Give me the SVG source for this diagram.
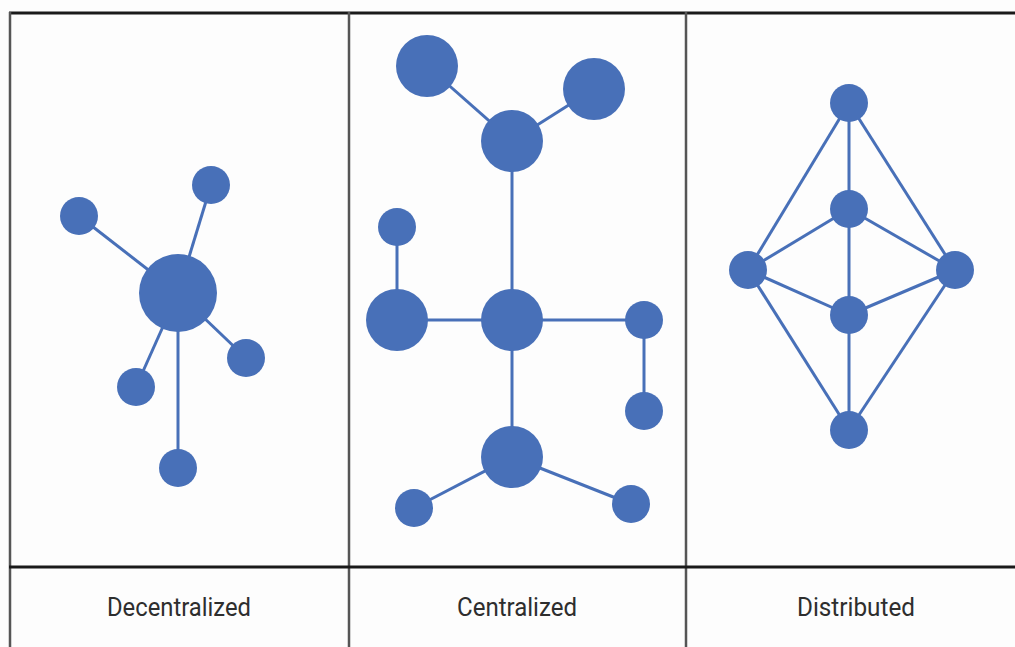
<svg xmlns="http://www.w3.org/2000/svg" width="1015" height="647" viewBox="0 0 1015 647">
<style>
.frame{stroke:#555;stroke-width:2.5;fill:none}
.hline{stroke:#1a1a1a;stroke-width:3}
.edge{stroke:#4870b8;stroke-width:3;fill:none}
.node{fill:#4870b8}
.label{font-family:Roboto,"Liberation Sans",sans-serif;font-size:26px;fill:#2e2e2e;text-anchor:middle}
</style>
<rect width="1015" height="647" fill="#fdfdfd"/>
<g id="frame">
<line class="hline" x1="9" y1="13" x2="1015" y2="13"/>
<line class="frame" x1="10" y1="12" x2="10" y2="647"/>
<line class="frame" x1="349" y1="12" x2="349" y2="647"/>
<line class="frame" x1="686" y1="12" x2="686" y2="647"/>
<line class="hline" x1="9" y1="567" x2="1015" y2="567"/>
</g>
<g id="connectors">
<line class="edge" x1="178" y1="293" x2="79" y2="216"/>
<line class="edge" x1="178" y1="293" x2="211" y2="185"/>
<line class="edge" x1="178" y1="293" x2="246" y2="358"/>
<line class="edge" x1="178" y1="293" x2="136" y2="387"/>
<line class="edge" x1="178" y1="293" x2="178" y2="468"/>
<line class="edge" x1="427" y1="66" x2="512" y2="141"/>
<line class="edge" x1="594" y1="89" x2="512" y2="141"/>
<line class="edge" x1="512" y1="141" x2="512" y2="320"/>
<line class="edge" x1="397" y1="227" x2="397" y2="320"/>
<line class="edge" x1="397" y1="320" x2="512" y2="320"/>
<line class="edge" x1="512" y1="320" x2="644" y2="320"/>
<line class="edge" x1="644" y1="320" x2="644" y2="411"/>
<line class="edge" x1="512" y1="320" x2="512" y2="457"/>
<line class="edge" x1="512" y1="457" x2="414" y2="508"/>
<line class="edge" x1="512" y1="457" x2="631" y2="504"/>
<line class="edge" x1="849" y1="103" x2="748" y2="270"/>
<line class="edge" x1="849" y1="103" x2="955" y2="270"/>
<line class="edge" x1="849" y1="103" x2="849" y2="430"/>
<line class="edge" x1="849" y1="209" x2="748" y2="270"/>
<line class="edge" x1="849" y1="209" x2="955" y2="270"/>
<line class="edge" x1="849" y1="315" x2="748" y2="270"/>
<line class="edge" x1="849" y1="315" x2="955" y2="270"/>
<line class="edge" x1="849" y1="430" x2="748" y2="270"/>
<line class="edge" x1="849" y1="430" x2="955" y2="270"/>
</g>
<g id="decentralized">
<circle id="dc-hub" class="node" cx="178" cy="293" r="39"/>
<circle id="dc-1" class="node" cx="79" cy="216" r="19"/>
<circle id="dc-2" class="node" cx="211" cy="185" r="19"/>
<circle id="dc-3" class="node" cx="246" cy="358" r="19"/>
<circle id="dc-4" class="node" cx="136" cy="387" r="19"/>
<circle id="dc-5" class="node" cx="178" cy="468" r="19"/>
</g>
<g id="centralized">
<circle id="c-1" class="node" cx="427" cy="66" r="31"/>
<circle id="c-2" class="node" cx="594" cy="89" r="31"/>
<circle id="c-3" class="node" cx="512" cy="141" r="31"/>
<circle id="c-4" class="node" cx="397" cy="227" r="19"/>
<circle id="c-5" class="node" cx="397" cy="320" r="31"/>
<circle id="c-6" class="node" cx="512" cy="320" r="31"/>
<circle id="c-7" class="node" cx="644" cy="320" r="19"/>
<circle id="c-8" class="node" cx="644" cy="411" r="19"/>
<circle id="c-9" class="node" cx="512" cy="457" r="31"/>
<circle id="c-10" class="node" cx="414" cy="508" r="19"/>
<circle id="c-11" class="node" cx="631" cy="504" r="19"/>
</g>
<g id="distributed">
<circle id="d-1" class="node" cx="849" cy="103" r="19"/>
<circle id="d-2" class="node" cx="849" cy="209" r="19"/>
<circle id="d-3" class="node" cx="748" cy="270" r="19"/>
<circle id="d-4" class="node" cx="955" cy="270" r="19"/>
<circle id="d-5" class="node" cx="849" cy="315" r="19"/>
<circle id="d-6" class="node" cx="849" cy="430" r="19"/>
</g>
<g id="labels">
<text class="label" x="179" y="616" textLength="144" lengthAdjust="spacingAndGlyphs">Decentralized</text>
<text class="label" x="517" y="616" textLength="120" lengthAdjust="spacingAndGlyphs">Centralized</text>
<text class="label" x="856" y="616" textLength="118" lengthAdjust="spacingAndGlyphs">Distributed</text>
</g>
</svg>
